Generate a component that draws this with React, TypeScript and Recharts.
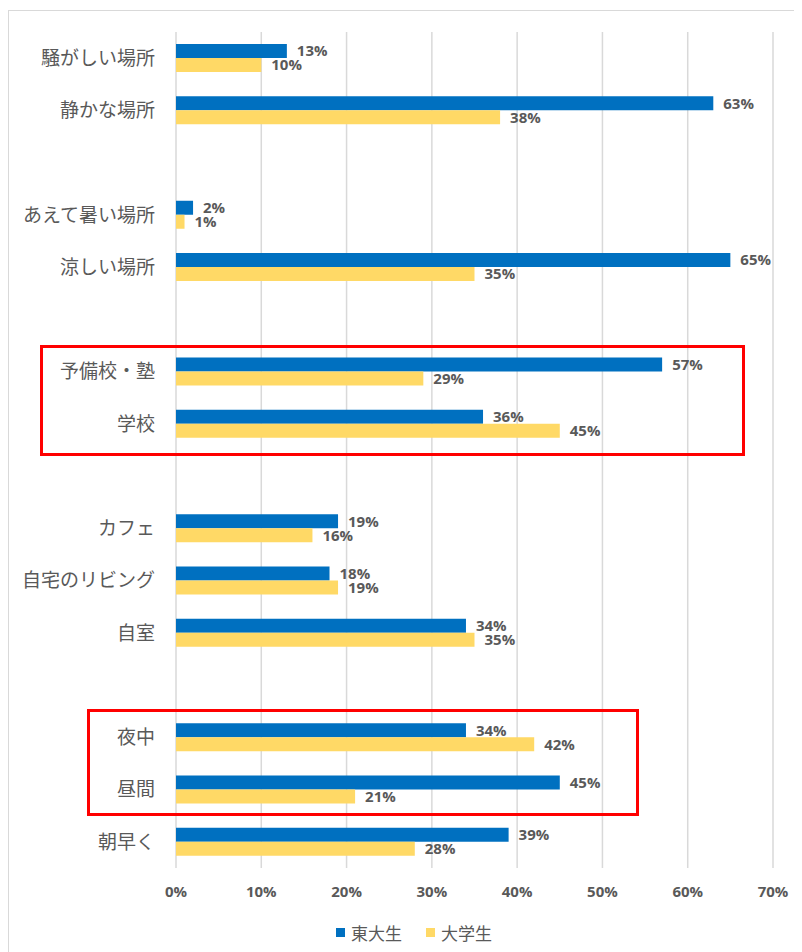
import React from 'react';
import { BarChart, Bar, XAxis, YAxis, CartesianGrid, LabelList } from 'recharts';

// empty strings are spacer rows between the groups
const categories = [
  '騒がしい場所', '静かな場所', '',
  'あえて暑い場所', '涼しい場所', '',
  '予備校・塾', '学校', '',
  'カフェ', '自宅のリビング', '自室', '',
  '夜中', '昼間', '朝早く',
];
const todaisei = [13, 63, null, 2, 65, null, 57, 36, null, 19, 18, 34, null, 34, 45, 39];
const daigakusei = [10, 38, null, 1, 35, null, 29, 45, null, 16, 19, 35, null, 42, 21, 28];
const xTicks = [0, 10, 20, 30, 40, 50, 60, 70];

const series = [
  { key: 'todai', name: '東大生', color: '#0070C0', values: todaisei },
  { key: 'daigaku', name: '大学生', color: '#FFD966', values: daigakusei },
];

const data = categories.map((name, i) => ({
  name,
  todai: todaisei[i],
  daigaku: daigakusei[i],
}));

const grayText = '#595959';
const numFont = '"Open Sans", "Noto Sans CJK JP", sans-serif';
const jpFont = '"Noto Sans CJK JP", sans-serif';

const App: React.FC = () => {
  return (
    <div
      style={{
        position: 'relative',
        marginTop: 2,
        width: 794,
        height: 942,
        borderTop: '1px solid #d9d9d9',
        borderLeft: '1px solid #d9d9d9',
        background: '#fff',
        fontFamily: jpFont,
      }}
    >
      <BarChart
        width={794}
        height={900}
        data={data}
        layout="vertical"
        margin={{ top: 21, right: 30, bottom: 13, left: 0 }}
        barGap={0}
        barSize={14}
      >
        <CartesianGrid horizontal={false} stroke="#d9d9d9" strokeWidth={1.5} />
        <XAxis
          type="number"
          domain={[0, 70]}
          ticks={xTicks}
          tickFormatter={(v) => `${v}%`}
          axisLine={false}
          tickLine={false}
          tickSize={0}
          tickMargin={18}
          height={30}
          interval={0}
          tick={{ fill: grayText, fontSize: 15, fontWeight: 700, fontFamily: numFont }}
        />
        <YAxis
          type="category"
          dataKey="name"
          width={167}
          axisLine={false}
          tickLine={false}
          tickSize={0}
          tickMargin={21}
          interval={0}
          tick={{ fill: grayText, fontSize: 19, fontFamily: jpFont }}
        />
        {series.map((s) => (
          <Bar key={s.key} dataKey={s.key} name={s.name} fill={s.color} isAnimationActive={false}>
            <LabelList
              dataKey={s.key}
              position="right"
              offset={10}
              formatter={(v: any) => (v == null ? '' : `${v}%`)}
              fill={grayText}
              fontSize={15}
              fontWeight={700}
              fontFamily={numFont}
            />
          </Bar>
        ))}
      </BarChart>

      {/* highlight boxes */}
      <div
        style={{
          position: 'absolute',
          left: 31,
          top: 334,
          width: 705,
          height: 111,
          border: '3px solid #ff0000',
          boxSizing: 'border-box',
        }}
      />
      <div
        style={{
          position: 'absolute',
          left: 78,
          top: 698,
          width: 552,
          height: 107,
          border: '3px solid #ff0000',
          boxSizing: 'border-box',
        }}
      />

      {/* legend */}
      <div
        style={{
          position: 'absolute',
          left: 0,
          top: 911,
          width: 794,
          paddingLeft: 16,
          boxSizing: 'border-box',
          display: 'flex',
          justifyContent: 'center',
          alignItems: 'center',
          gap: 24,
          color: grayText,
          fontSize: 17,
          height: 20,
        }}
      >
        {series.map((s) => (
          <div key={s.key} style={{ display: 'flex', alignItems: 'center', gap: 6 }}>
            <span style={{ display: 'inline-block', width: 9, height: 9, background: s.color }} />
            <span>{s.name}</span>
          </div>
        ))}
      </div>
    </div>
  );
};

export default App;
